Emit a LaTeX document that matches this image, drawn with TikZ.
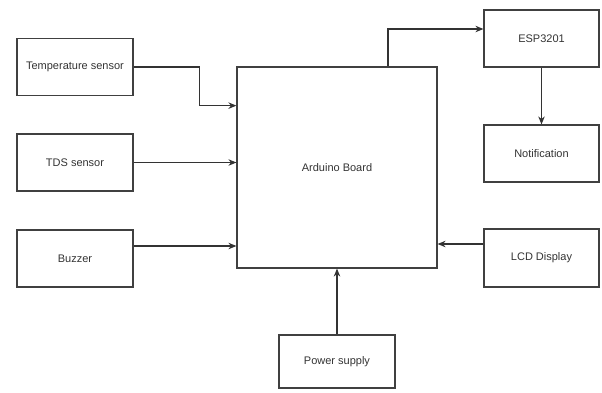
\documentclass[tikz,border=0pt]{standalone}
\usepackage{fontspec}
\setmainfont{Liberation Sans}
\usetikzlibrary{arrows.meta,positioning,calc}

\begin{document}
\begin{tikzpicture}[
    x=1pt, y=-1pt,
    box/.style={rectangle, draw=black!75, line width=1.2pt, minimum width=116pt, minimum height=57pt, align=center, text=black!80, font=\fontsize{11}{13}\selectfont, inner sep=0pt},
    arrow/.style={-{Stealth[length=8pt,width=6.5pt]}, draw=black!80, line width=1.1pt}
]
\useasboundingbox (0,0) rectangle (602,392);

% Input blocks (left)
\node[box] (temp) at (75,67) {Temperature sensor};
\node[box] (tds) at (75,162.5) {TDS sensor};
\node[box] (buzzer) at (75,258.5) {Buzzer};

% Controller
\node[box, minimum width=200pt, minimum height=201pt] (arduino) at (337,167.5) {Arduino Board};

% Right side blocks
\node[box, minimum width=115pt] (esp) at (541.5,38.5) {ESP3201};
\node[box, minimum width=115pt] (notif) at (541.5,153.5) {Notification};
\node[box, minimum width=115pt, minimum height=58pt] (lcd) at (541.5,258) {LCD Display};

% Supply
\node[box, minimum height=53pt] (power) at (337,361.5) {Power supply};

% Connections into the board
\coordinate (tempin) at ($(arduino.north west)!0.194!(arduino.south west)$);
\draw[arrow] (temp.east) -- ++(66,0) |- (tempin);
\draw[arrow] (tds.east) -- (tds.east -| arduino.west);
\coordinate (buzout) at ($(buzzer.east)+(0,-12.5)$);
\draw[arrow] (buzout) -- (buzout -| arduino.west);
\coordinate (lcdout) at ($(lcd.west)+(0,-14)$);
\draw[arrow] (lcdout) -- (lcdout -| arduino.east);
\draw[arrow] (power.north) -- (arduino.south);

% Board to ESP and notification
\coordinate (espin) at ($(esp.west)+(0,-9.5)$);
\draw[arrow] ($(arduino.north)+(51,0)$) |- (espin);
\draw[arrow] (esp.south) -- (notif.north);

\end{tikzpicture}
\end{document}
